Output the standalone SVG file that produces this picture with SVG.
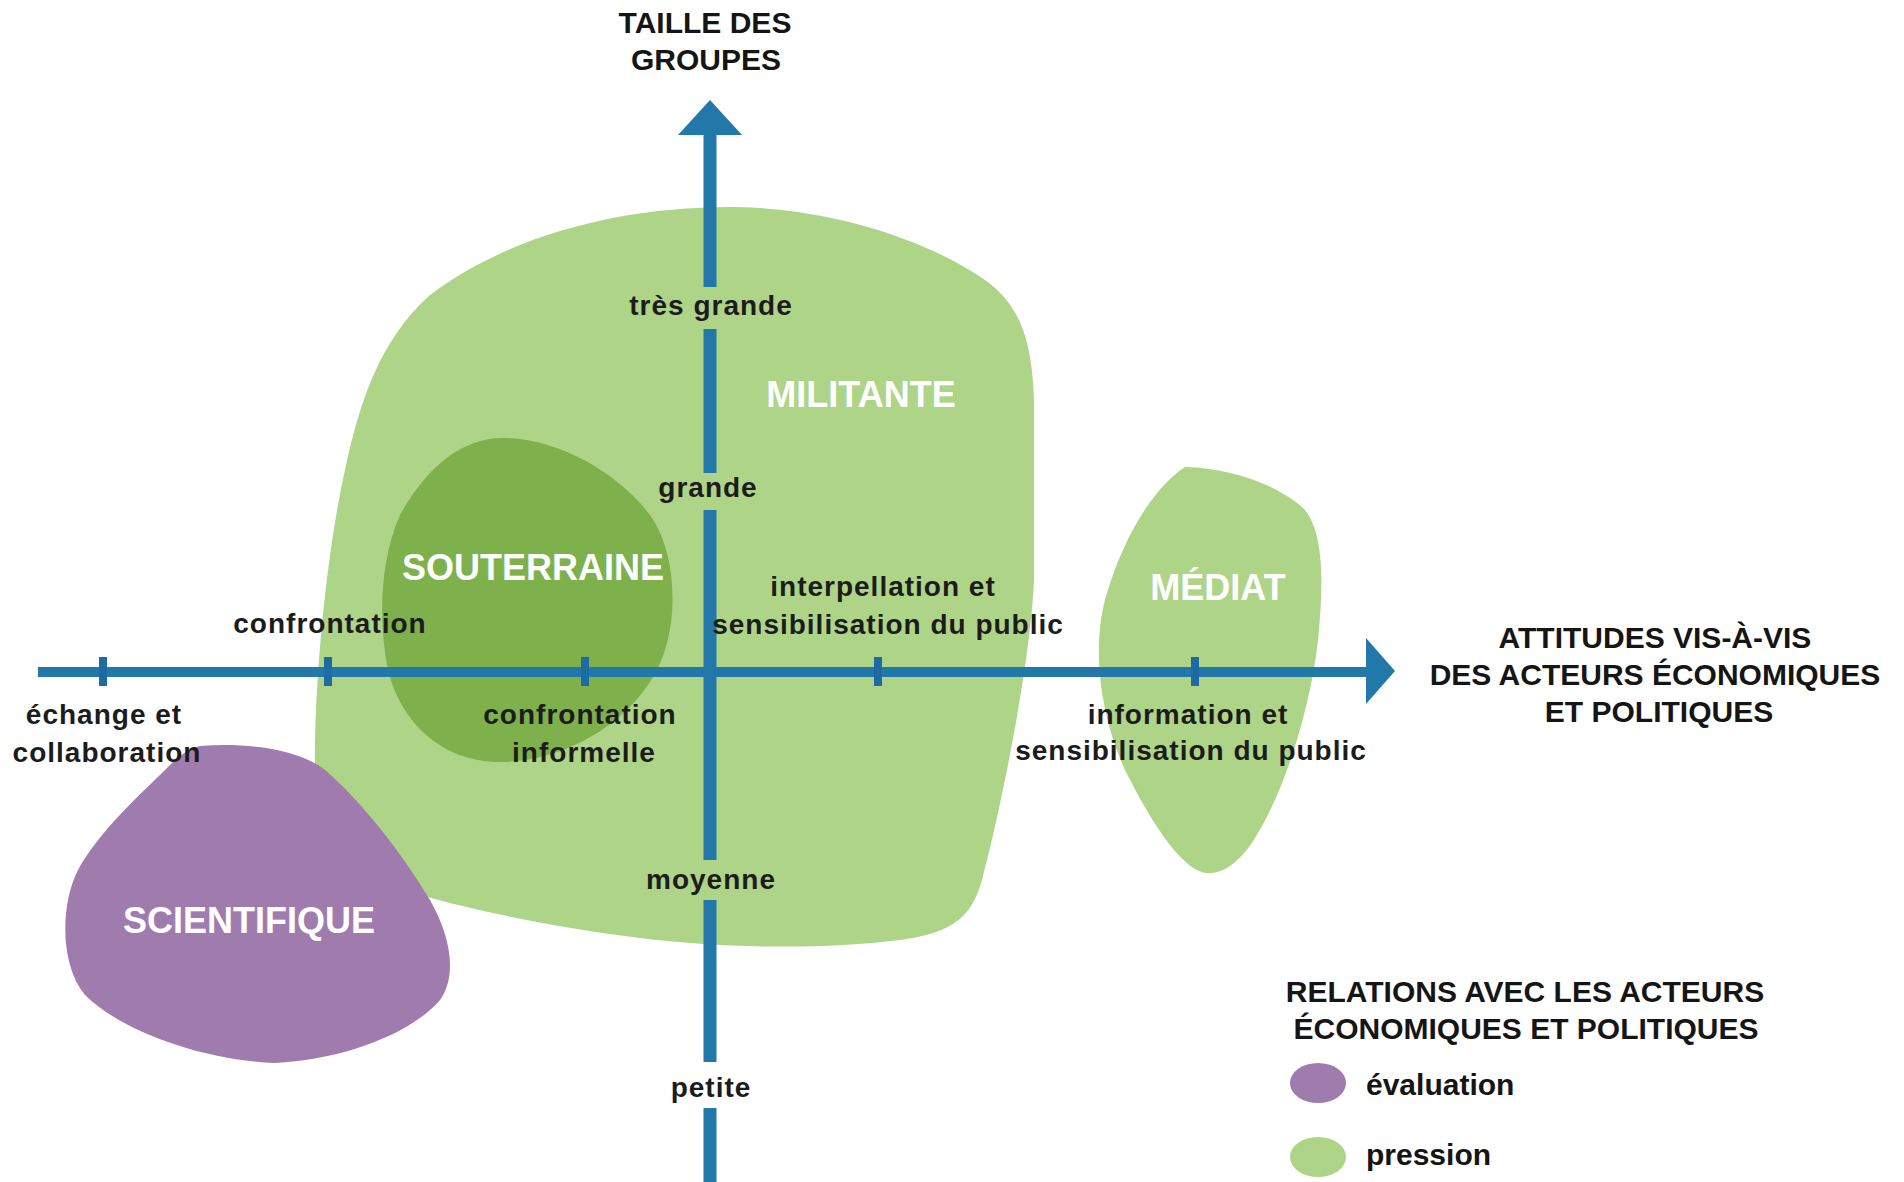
<svg xmlns="http://www.w3.org/2000/svg" width="1904" height="1182" viewBox="0 0 1904 1182">
<defs>
<style>
.bg{fill:#ffffff}
.lg{fill:#aed487}
.dg{fill:#7eb04b}
.pu{fill:#a07cae}
.ax{stroke:#2279a9;fill:none}
.head{font-family:"Liberation Sans",Arial,sans-serif;font-weight:bold;font-size:30px;fill:#151515;text-anchor:middle}
.lab{font-family:"Liberation Sans",Arial,sans-serif;font-weight:bold;font-size:28px;letter-spacing:1px;fill:#1c1c1c;text-anchor:middle}
.big{font-family:"Liberation Sans",Arial,sans-serif;font-weight:bold;font-size:36px;fill:#ffffff;text-anchor:middle}
.leg{font-family:"Liberation Sans",Arial,sans-serif;font-weight:bold;font-size:30px;fill:#151515}
.tick{fill:#1e6aa3}
</style>
</defs>
<rect class="bg" x="0" y="0" width="1904" height="1182"/>

<g id="militante">
<path class="lg" d="M 730,207 C 820,207 920,235 985,280 C 1020,305 1032,340 1034,400 L 1034,580 C 1030,670 998,820 982,880 C 972,915 955,933 900,940 C 820,950 720,948 640,938 C 560,928 480,912 420,895 C 350,870 316,830 315,770 C 314,690 325,560 345,470 C 360,400 380,340 430,295 C 510,235 620,207 730,207 Z"/>
<text class="big" x="861" y="407">MILITANTE</text>
</g>

<g id="souterraine">
<path class="dg" d="M 503,438 C 560,438 620,475 650,515 C 675,550 678,610 665,650 C 645,715 570,762 500,762 C 440,762 400,720 388,670 C 378,620 380,560 400,515 C 425,470 460,438 503,438 Z"/>
<text class="big" x="533" y="580">SOUTERRAINE</text>
</g>

<g id="scientifique">
<path class="pu" d="M 200,746 C 250,742 300,750 325,770 C 360,800 400,850 430,900 C 450,935 458,975 440,1000 C 410,1035 340,1060 275,1063 C 200,1060 120,1030 85,995 C 60,965 60,905 78,870 C 100,830 140,795 170,765 C 180,755 190,748 200,746 Z"/>
<text class="big" x="249" y="933">SCIENTIFIQUE</text>
</g>

<g id="mediat">
<path class="lg" d="M 1185,467 C 1230,468 1280,485 1305,510 C 1325,535 1323,590 1318,640 C 1310,710 1285,790 1255,838 C 1238,865 1220,875 1205,873 C 1180,868 1150,820 1125,770 C 1100,715 1092,650 1105,600 C 1120,545 1150,490 1185,467 Z"/>
<text class="big" x="1218" y="600">MÉDIAT</text>
</g>

<g id="connectors">
<line class="ax" x1="38" y1="672" x2="1368" y2="672" stroke-width="10"/>
<polygon fill="#2279a9" points="1366,638 1395,671 1366,704"/>
<line class="ax" x1="710" y1="130" x2="710" y2="287" stroke-width="13"/>
<line class="ax" x1="710" y1="329" x2="710" y2="473" stroke-width="13"/>
<line class="ax" x1="710" y1="510" x2="710" y2="860" stroke-width="13"/>
<line class="ax" x1="710" y1="900" x2="710" y2="1062" stroke-width="13"/>
<line class="ax" x1="710" y1="1108" x2="710" y2="1182" stroke-width="13"/>
<polygon fill="#2279a9" points="710,100 742,135 678,135"/>
<rect class="tick" x="99" y="657" width="8" height="29"/>
<rect class="tick" x="324" y="657" width="8" height="29"/>
<rect class="tick" x="581" y="657" width="8" height="29"/>
<rect class="tick" x="874" y="657" width="8" height="29"/>
<rect class="tick" x="1191" y="657" width="8" height="29"/>
</g>

<g id="axis-y-title">
<text class="head" x="705" y="33">TAILLE DES</text>
<text class="head" x="706" y="70">GROUPES</text>
</g>

<g id="axis-x-title">
<text class="head" x="1655" y="648">ATTITUDES VIS-À-VIS</text>
<text class="head" x="1655" y="685">DES ACTEURS ÉCONOMIQUES</text>
<text class="head" x="1659" y="722">ET POLITIQUES</text>
</g>

<g id="y-labels">
<text class="lab" x="711" y="315">très grande</text>
<text class="lab" x="708" y="497">grande</text>
<text class="lab" x="711" y="889">moyenne</text>
<text class="lab" x="711" y="1097">petite</text>
</g>

<g id="x-labels">
<text class="lab" x="104" y="724">échange et</text>
<text class="lab" x="107" y="762">collaboration</text>
<text class="lab" x="330" y="633">confrontation</text>
<text class="lab" x="580" y="724">confrontation</text>
<text class="lab" x="584" y="762">informelle</text>
<text class="lab" x="883" y="596">interpellation et</text>
<text class="lab" x="888" y="634">sensibilisation du public</text>
<text class="lab" x="1188" y="724">information et</text>
<text class="lab" x="1191" y="760">sensibilisation du public</text>
</g>

<g id="legend">
<text class="head" x="1525" y="1002">RELATIONS AVEC LES ACTEURS</text>
<text class="head" x="1526" y="1039">ÉCONOMIQUES ET POLITIQUES</text>
<ellipse class="pu" cx="1318" cy="1083" rx="28" ry="20"/>
<text class="leg" x="1366" y="1095">évaluation</text>
<ellipse class="lg" cx="1318" cy="1157" rx="28" ry="20"/>
<text class="leg" x="1366" y="1165">pression</text>
</g>
</svg>
